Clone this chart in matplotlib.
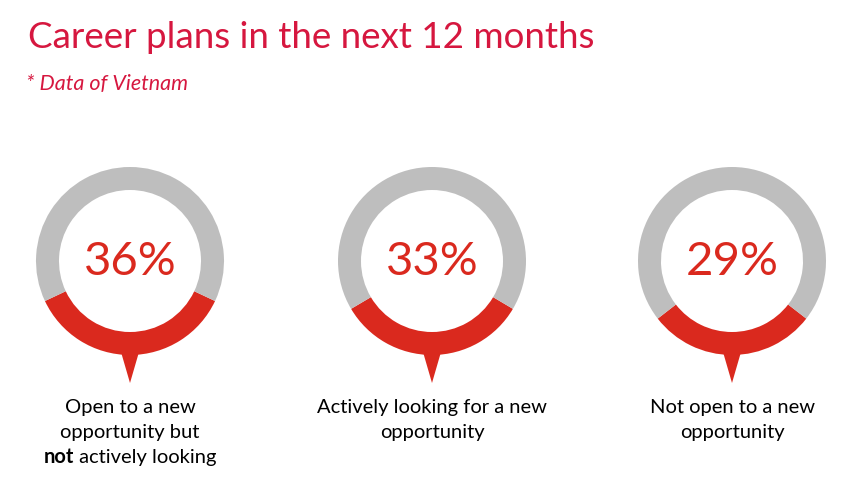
import matplotlib
matplotlib.use("Agg")
import matplotlib.pyplot as plt
from matplotlib.patches import Polygon

# ---- data ----
values = [36, 33, 29]
pct_labels = ["36%", "33%", "29%"]
categories = [
    ["Open to a new", "opportunity but", ("not", " actively looking")],
    ["Actively looking for a new", "opportunity"],
    ["Not open to a new", "opportunity"],
]
title = "Career plans in the next 12 months"
subtitle = "* Data of Vietnam"

RED = "#DA291E"
GRAY = "#BEBEBE"
TITLE_C = "#D6173F"
W, H = 861, 486

plt.rcParams['font.family'] = ['Lato', 'DejaVu Sans']

fig = plt.figure(figsize=(W / 100, H / 100), dpi=100)
ax = fig.add_axes([0, 0, 1, 1])

centers_x = [130, 432, 732]
cy = H - 261
R = 94
ring = 23

for v, cx, pl, cat in zip(values, centers_x, pct_labels, categories):
    ax.pie([v, 100 - v], colors=[RED, GRAY], startangle=270 - v * 3.6 / 2,
           counterclock=True, center=(cx, cy), radius=R, frame=True,
           wedgeprops=dict(width=ring, linewidth=0))
    # pointer
    ax.add_patch(Polygon([(cx - 9, cy - R + 3), (cx + 9, cy - R + 3), (cx, H - 383)],
                         closed=True, color=RED, lw=0))
    ax.text(cx, cy - 1, pl, ha='center', va='center', fontsize=34,
            fontweight='normal', color=RED)

ax.set_xlim(0, W)
ax.set_ylim(0, H)
ax.set_aspect('auto')
ax.axis('off')

fig.text(28 / W, 1 - 37 / H, title, fontsize=26.5, color=TITLE_C,
         fontweight='normal', va='center', ha='left')
fig.text(26 / W, 1 - 84 / H, subtitle, fontsize=15.5, color=TITLE_C,
         fontstyle='italic', fontweight='normal', va='center', ha='left')

line_y = [407, 432, 457]
renderer = fig.canvas.get_renderer()
LFS = 14.5
for cx, cat in zip(centers_x, categories):
    for i, line in enumerate(cat):
        y = H - line_y[i]
        if isinstance(line, tuple):
            t1 = ax.text(0, y, line[0], fontsize=LFS, fontweight='bold',
                         color='black', va='center', ha='left')
            t2 = ax.text(0, y, line[1], fontsize=LFS, color='black',
                         va='center', ha='left')
            w1 = t1.get_window_extent(renderer).width
            w2 = t2.get_window_extent(renderer).width
            x0 = cx - (w1 + w2) / 2
            t1.set_x(x0)
            t2.set_x(x0 + w1)
        else:
            ax.text(cx, y, line, fontsize=LFS, color='black',
                    va='center', ha='center')

fig.savefig("out.png", dpi=100, facecolor='white')
